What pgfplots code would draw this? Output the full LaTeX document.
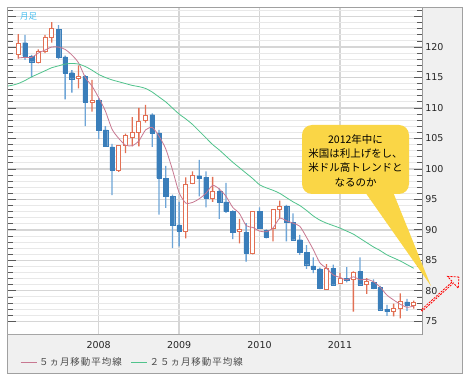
\documentclass[border=0pt]{standalone}
\usepackage{fontspec}
\setmainfont{DejaVu Sans}
\newfontfamily\cjk{Noto Sans CJK JP}
\newfontfamily\cjkwide[LetterSpace=10]{Noto Sans CJK JP}
\usepackage{pgfplots}
\pgfplotsset{compat=1.18}
\usepackage{pgfplotstable}
\usetikzlibrary{shapes.arrows}

\definecolor{upc}{RGB}{226,112,84}
\definecolor{dnc}{RGB}{58,126,186}
\definecolor{dnw}{RGB}{110,165,215}
\definecolor{maf}{RGB}{200,120,145}
\definecolor{mas}{RGB}{80,195,140}
\definecolor{panel}{RGB}{240,240,240}
\definecolor{frm}{RGB}{160,160,160}
\definecolor{callout}{RGB}{250,214,70}
\definecolor{tsuki}{RGB}{70,190,240}

% up candles (close > open)
\pgfplotstableread{
x o h l c
0 118.8 122.1 118.1 120.6
3 117.4 119.6 117.3 119.2
4 119.3 122.0 119.0 121.6
5 121.6 124.1 120.7 123.1
9 114.9 117.0 113.2 115.1
11 110.9 114.6 109.4 111.3
15 99.7 103.9 99.5 103.9
16 103.9 105.8 102.6 105.5
17 105.2 108.5 103.7 106.0
18 106.0 110.0 103.7 107.8
19 107.9 110.5 107.6 108.7
25 89.8 98.6 88.6 97.5
26 97.7 99.6 97.5 98.9
29 95.2 98.7 94.6 96.3
33 89.7 91.8 87.8 90.1
35 86.2 93.0 86.0 93.0
38 90.3 93.4 88.1 93.4
39 93.4 94.8 91.9 93.9
46 80.3 84.4 80.2 83.7
48 81.2 83.0 81.1 82.1
50 81.8 83.2 76.6 83.0
52 81.0 82.1 79.5 81.5
56 76.6 77.9 75.8 77.1
57 77.1 79.6 75.5 78.2
59 77.6 78.4 77.1 78.1
}\upT

% down candles (close < open)
\pgfplotstableread{
x o h l c
1 120.7 122.0 117.9 118.5
2 118.5 118.7 115.0 117.6
6 122.9 123.6 118.0 118.4
7 118.4 118.6 111.4 115.7
8 115.8 116.2 112.5 114.8
10 115.2 115.4 107.0 111.0
12 111.3 111.6 104.9 106.4
13 106.4 107.0 103.7 103.8
14 103.6 104.1 95.7 99.8
20 108.9 109.1 103.6 105.9
21 105.9 106.4 92.5 98.5
22 98.5 100.5 93.6 95.5
23 95.5 95.8 87.0 90.8
24 90.8 94.6 87.3 89.8
27 98.9 101.5 95.5 98.5
28 98.6 99.6 93.7 95.2
30 96.3 96.8 91.8 94.6
31 94.6 97.7 92.8 93.0
32 93.0 93.2 88.5 89.6
34 89.6 91.1 84.8 86.2
36 93.0 93.7 90.2 90.3
37 89.9 90.1 88.6 88.8
40 93.9 94.1 88.1 91.2
41 91.2 92.7 88.3 88.4
42 88.4 89.2 85.9 86.3
43 86.3 87.5 83.6 84.3
44 84.1 85.5 82.9 83.6
45 83.6 83.8 80.3 80.4
47 83.7 84.3 80.9 81.0
49 82.1 83.9 81.4 81.8
51 83.2 85.5 81.0 81.0
53 81.4 81.9 80.3 80.5
54 80.6 80.8 76.8 76.9
55 77.0 77.7 75.9 76.6
58 78.2 78.7 76.7 77.6
}\dnT

% 5-month moving average
\pgfplotstableread{
x v
0 118.2
1 118.3
2 118.3
3 119.0
4 119.5
5 120.0
6 120.0
7 119.6
8 118.7
9 117.4
10 115.0
11 113.6
12 111.7
13 109.5
14 106.5
15 105.0
16 103.9
17 103.8
18 104.6
19 106.4
20 106.8
21 105.4
22 103.3
23 99.9
24 96.1
25 94.4
26 94.5
27 95.1
28 96.0
29 97.3
30 96.7
31 95.5
32 93.7
33 92.7
34 90.7
35 90.4
36 89.8
37 89.7
38 90.3
39 91.9
40 91.5
41 91.1
42 90.6
43 88.8
44 86.8
45 84.6
46 83.7
47 82.6
48 82.2
49 81.8
50 82.3
51 81.8
52 81.9
53 81.5
54 80.6
55 79.3
56 78.5
57 77.8
58 77.3
59 77.5
}\maF

% 25-month moving average
\pgfplotstableread{
x v
-1.6 113.6
-1 113.7
0 114.0
1 114.5
2 115.1
3 115.6
4 116.1
5 116.6
6 116.9
7 117.2
8 117.3
9 117.2
10 116.8
11 116.2
12 115.5
13 115.0
14 114.6
15 114.3
16 114.0
17 113.7
18 113.5
19 113.2
20 112.6
21 111.8
22 111.0
23 110.0
24 109.0
25 108.2
26 107.3
27 106.2
28 105.1
29 104.0
30 103.1
31 102.1
32 101.1
33 100.2
34 99.3
35 98.4
36 97.4
37 96.9
38 96.5
39 96.0
40 95.3
41 94.6
42 94.0
43 93.2
44 92.3
45 91.6
46 91.1
47 90.7
48 90.3
49 89.8
50 89.3
51 88.6
52 87.9
53 87.2
54 86.6
55 85.9
56 85.4
57 84.9
58 84.3
59 83.7
}\maS

\pgfplotsset{
  base/.style={
    at={(7.5pt,43.7pt)}, anchor=south west,
    width=414.8pt, height=326.8pt, scale only axis,
    xmin=-1.6, xmax=60.28, ymin=72.87, ymax=126.48,
  },
  hidden/.style={base, hide axis, clip=true},
}
\tikzset{yearlab/.style={font=\fontsize{9.5}{11}\selectfont, text=black!85, anchor=center}}

\begin{document}
\begin{tikzpicture}[x=1pt,y=1pt]
\path[use as bounding box, fill=white] (0,0) rectangle (467,378);
% gray panels
\fill[panel] (422.3,5) rectangle (462,370.7);
\fill[panel] (7.3,5) rectangle (462,43.7);

% main axis: grid, ticks, labels
\begin{axis}[base, clip=false,
  axis line style={draw=black!40, line width=0.8pt},
  xtick={12,24,36,48}, xticklabels={},
  xmajorgrids,
  ytick={75,80,...,125},
  yticklabels={75,80,85,90,95,100,105,110,115,120,{}},
  minor ytick={76,...,126},
  ymajorgrids, yminorgrids,
  major grid style={draw=black!16, line width=1.3pt},
  minor grid style={draw=black!9, line width=0.9pt},
  tick align=inside,
  major tick length=8.5pt, minor tick length=5pt,
  tick style={draw=black!65, line width=0.8pt},
  minor tick style={draw=black!65, line width=0.8pt},
  xtick style={draw=none},
  ytick pos=both,
  yticklabel pos=right,
  yticklabel style={anchor=west, xshift=-0.5pt},
  ticklabel style={font=\fontsize{9.5}{11}\selectfont, text=black!85},
  /pgf/number format/assume math mode=true,
]
\addplot[draw=none] coordinates {(0,100)};
% year labels under the axis, one per x tick
\node[yearlab] at (rel axis cs:0.2198,-0.0327) {2008};
\node[yearlab] at (rel axis cs:0.4137,-0.0327) {2009};
\node[yearlab] at (rel axis cs:0.6076,-0.0327) {2010};
\node[yearlab] at (rel axis cs:0.8015,-0.0327) {2011};
\end{axis}

% wicks
\begin{axis}[hidden, ybar stacked, bar width=1.3pt]
\addplot [draw=none, fill=none] table [x=x, y=l] {\upT};
\addplot [draw=none, fill=upc] table [x=x, y expr=\thisrow{h}-\thisrow{l}] {\upT};
\end{axis}
\begin{axis}[hidden, ybar stacked, bar width=1.3pt]
\addplot [draw=none, fill=none] table [x=x, y=l] {\dnT};
\addplot [draw=none, fill=dnw] table [x=x, y expr=\thisrow{h}-\thisrow{l}] {\dnT};
\end{axis}

% bodies
\begin{axis}[hidden, ybar stacked, bar width=4pt]
\addplot [draw=none, fill=none] table [x=x, y=o] {\upT};
\addplot [draw=upc, fill=white, line width=0.8pt] table [x=x, y expr=\thisrow{c}-\thisrow{o}] {\upT};
\end{axis}
\begin{axis}[hidden, ybar stacked, bar width=4.6pt]
\addplot [draw=none, fill=none] table [x=x, y=c] {\dnT};
\addplot [draw=dnc, fill=dnc, line width=0.2pt] table [x=x, y expr=\thisrow{o}-\thisrow{c}] {\dnT};
\end{axis}

% moving averages + legend
\begin{axis}[hidden,
  legend columns=2,
  legend cell align=left,
  legend style={at={(0.023,-0.0848)}, anchor=west, draw=none, fill=none,
    font=\cjkwide\fontsize{9.5}{12}\selectfont, text=black!70,
    /tikz/every even column/.append style={column sep=7pt}},
  legend image code/.code={\draw[#1, line width=0.9pt] (0pt,0pt) -- (16pt,0pt);},
]
\addplot [maf, line width=0.8pt, smooth, tension=0.4, mark=none] table [x=x, y=v] {\maF};
\addplot [mas, line width=0.8pt, smooth, tension=0.4, mark=none] table [x=x, y=v] {\maS};
\legend{５ヵ月移動平均線,２５ヵ月移動平均線}
\end{axis}

% outer frame
\draw[frm, line width=0.8pt] (7.3,5) rectangle (462,370.7);
\draw[black!35, line width=0.6pt] (7.3,43.7) -- (422.3,43.7);

% label
\node[font=\cjk\fontsize{8.5}{10}\selectfont, text=tsuki] at (28.5,362) {月足};

% callout
\fill[callout, rounded corners=10pt] (302,184) rectangle (409,253);
\fill[callout] (365,186) -- (393,186) -- (431,92) -- cycle;
\node[font=\cjk\fontsize{10.5}{14.3}\selectfont, align=center] at (355.5,217.5)
  {2012年中に\\米国は利上げをし、\\米ドル高トレンドと\\なるのか};

% arrow
\node[single arrow, draw=red, dash pattern=on 2pt off 1.2pt, line width=0.8pt,
  minimum height=50pt, minimum width=16pt, single arrow head extend=3.5pt,
  inner sep=0pt, rotate=42] at (440,84) {};
\end{tikzpicture}
\end{document}
